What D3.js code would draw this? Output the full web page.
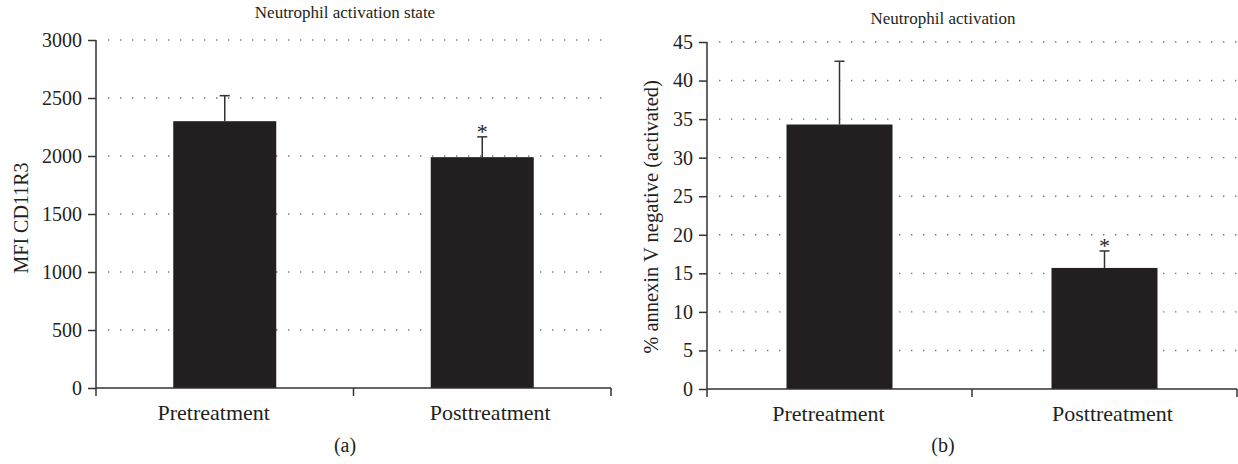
<!DOCTYPE html>
<html>
<head>
<meta charset="utf-8">
<script src="https://cdn.jsdelivr.net/npm/d3@7"></script>
<style>
    body { margin: 0; background: #fff; }
    svg { display: block; }
    text { font-family: "Liberation Serif", "DejaVu Serif", serif; fill: #231f20; }
</style>
</head>
<body>
<div id="svgContainer"></div>
<script>
// data
const categories = ["Pretreatment", "Posttreatment"];
const mfiValues = [2300, 1990];
const mfiErrors = [220, 175];
const annexinValues = [34.3, 15.7];
const annexinErrors = [8.2, 2.2];
const significant = [false, true];
const mfiTicks = [0, 500, 1000, 1500, 2000, 2500, 3000];
const annexinTicks = [0, 5, 10, 15, 20, 25, 30, 35, 40, 45];

const W = 1238, H = 464;
const svg = d3.select("#svgContainer").append("svg")
    .attr("width", W)
    .attr("height", H)
    .attr("viewBox", "0 0 " + W + " " + H);

// category labels sit a bit off the band centres in the original
const labelShift = [-11, 8];

function drawPanel(opts) {
    const g = svg.append("g");

    const x = d3.scaleBand()
        .domain(categories)
        .range([opts.left, opts.right])
        .paddingInner(0.6)
        .paddingOuter(0.3);

    const xAxisBand = d3.scaleBand()
        .domain(categories)
        .range([opts.left, opts.right]);

    const y = d3.scaleLinear()
        .domain([0, d3.max(opts.ticks)])
        .range([opts.bottom, opts.top]);

    // dotted grid lines
    g.append("g")
        .selectAll("line")
        .data(opts.ticks.filter(t => t > 0))
        .enter().append("line")
        .attr("x1", opts.left + 12)
        .attr("x2", opts.right)
        .attr("y1", d => y(d))
        .attr("y2", d => y(d))
        .attr("stroke", "#777")
        .attr("stroke-width", 1.4)
        .attr("stroke-dasharray", "1.4 10.6");

    // bars
    const rows = categories.map((c, i) => ({
        cat: c, value: opts.values[i], err: opts.errors[i], sig: significant[i]
    }));

    g.append("g")
        .selectAll("rect")
        .data(rows)
        .enter().append("rect")
        .attr("x", d => x(d.cat))
        .attr("width", x.bandwidth())
        .attr("y", d => y(d.value))
        .attr("height", d => y(0) - y(d.value))
        .attr("fill", "#231f20");

    // error bars
    const eb = g.append("g")
        .attr("stroke", "#333")
        .attr("stroke-width", 1.5);
    eb.selectAll(".stem")
        .data(rows)
        .enter().append("line")
        .attr("x1", d => x(d.cat) + x.bandwidth() / 2)
        .attr("x2", d => x(d.cat) + x.bandwidth() / 2)
        .attr("y1", d => y(d.value))
        .attr("y2", d => y(d.value + d.err));
    eb.selectAll(".cap")
        .data(rows)
        .enter().append("line")
        .attr("x1", d => x(d.cat) + x.bandwidth() / 2 - 5)
        .attr("x2", d => x(d.cat) + x.bandwidth() / 2 + 5)
        .attr("y1", d => y(d.value + d.err))
        .attr("y2", d => y(d.value + d.err));

    // significance stars
    g.append("g")
        .selectAll("text")
        .data(rows.filter(d => d.sig))
        .enter().append("text")
        .attr("x", d => x(d.cat) + x.bandwidth() / 2)
        .attr("y", d => y(d.value + d.err) + 2)
        .attr("text-anchor", "middle")
        .attr("font-size", 22)
        .text("*");

    // y axis
    const yAxis = d3.axisLeft(y)
        .tickValues(opts.ticks)
        .tickFormat(d3.format("d"))
        .tickSize(8)
        .tickPadding(6);
    const ya = g.append("g")
        .attr("transform", "translate(" + opts.left + ",0)")
        .call(yAxis);
    ya.select(".domain").remove();
    ya.append("line")
        .attr("x1", 0).attr("x2", 0)
        .attr("y1", opts.top).attr("y2", opts.bottom + 8)
        .attr("stroke", "#333").attr("stroke-width", 1.5);
    ya.selectAll(".tick line").attr("stroke", "#333").attr("stroke-width", 1.5);
    ya.selectAll(".tick text")
        .attr("font-size", 20)
        .attr("font-family", "Liberation Serif, serif")
        .attr("fill", "#231f20");

    // x axis
    const xa = g.append("g");
    xa.append("line")
        .attr("x1", opts.left).attr("x2", opts.right)
        .attr("y1", opts.bottom).attr("y2", opts.bottom)
        .attr("stroke", "#333").attr("stroke-width", 1.5);
    const edges = categories.map(c => xAxisBand(c) + xAxisBand.bandwidth());
    xa.selectAll(".xtick")
        .data(edges)
        .enter().append("line")
        .attr("x1", d => d).attr("x2", d => d)
        .attr("y1", opts.bottom).attr("y2", opts.bottom + 8)
        .attr("stroke", "#333").attr("stroke-width", 1.5);
    xa.selectAll("text")
        .data(categories)
        .enter().append("text")
        .attr("x", (d, i) => xAxisBand(d) + xAxisBand.bandwidth() / 2 + labelShift[i])
        .attr("y", opts.bottom + 32)
        .attr("text-anchor", "middle")
        .attr("font-size", 22)
        .text(d => d);

    // y title
    g.append("text")
        .attr("transform", "translate(" + opts.yTitleX + "," + opts.yTitleY + ") rotate(-90)")
        .attr("text-anchor", "middle")
        .attr("font-size", opts.yTitleSize)
        .text(opts.yTitle);

    // chart title
    g.append("text")
        .attr("x", opts.titleX)
        .attr("y", opts.titleY)
        .attr("text-anchor", "middle")
        .attr("font-size", 17)
        .text(opts.title);

    // panel letter
    g.append("text")
        .attr("x", opts.titleX)
        .attr("y", 452)
        .attr("text-anchor", "middle")
        .attr("font-size", 20)
        .text(opts.letter);
}

drawPanel({
    left: 96, right: 611, top: 40, bottom: 388,
    ticks: mfiTicks, values: mfiValues, errors: mfiErrors,
    yTitle: "MFI CD11R3", yTitleX: 28, yTitleY: 218, yTitleSize: 20,
    title: "Neutrophil activation state", titleX: 345, titleY: 18,
    letter: "(a)"
});

drawPanel({
    left: 707, right: 1237, top: 42, bottom: 389,
    ticks: annexinTicks, values: annexinValues, errors: annexinErrors,
    yTitle: "% annexin V negative (activated)", yTitleX: 658, yTitleY: 217, yTitleSize: 20.5,
    title: "Neutrophil activation", titleX: 943, titleY: 24,
    letter: "(b)"
});
</script>
</body>
</html>
